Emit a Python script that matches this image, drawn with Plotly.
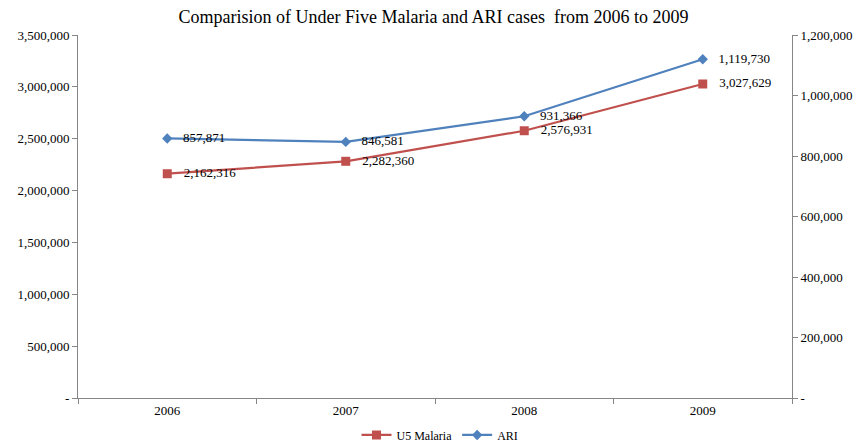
import plotly.graph_objects as go

years = ["2006", "2007", "2008", "2009"]
u5_malaria = [2162316, 2282360, 2576931, 3027629]
ari = [857871, 846581, 931366, 1119730]

left_ticks = [0, 500000, 1000000, 1500000, 2000000, 2500000, 3000000, 3500000]
right_ticks = [0, 200000, 400000, 600000, 800000, 1000000, 1200000]


def fmt(v):
    return "-" if v == 0 else f"{v:,}"


RED = "#C0504D"
BLUE = "#4F81BD"
AXIS = "#868686"
FONT = "Liberation Serif"
TICK_SIZE = 13

fig = go.Figure()
fig.add_trace(go.Scatter(
    x=years, y=u5_malaria, name="U5 Malaria", mode="lines+markers+text",
    line=dict(color=RED, width=2.25),
    marker=dict(symbol="square", size=9, color=RED),
    text=[f"   {v:,}" for v in u5_malaria], textposition="middle right",
    textfont=dict(family=FONT, size=13, color="#000000"),
    yaxis="y", cliponaxis=False,
))
fig.add_trace(go.Scatter(
    x=years, y=ari, name="ARI", mode="lines+markers+text",
    line=dict(color=BLUE, width=2.25),
    marker=dict(symbol="diamond", size=8, color=BLUE),
    text=[f"   {v:,}" for v in ari], textposition="middle right",
    textfont=dict(family=FONT, size=13, color="#000000"),
    yaxis="y2", cliponaxis=False,
))

fig.update_layout(
    width=860, height=442,
    margin=dict(l=78, r=68, t=35, b=44, autoexpand=False),
    paper_bgcolor="white", plot_bgcolor="white",
    font=dict(family=FONT, size=TICK_SIZE, color="#000000"),
    title=dict(text="Comparision of Under Five Malaria and ARI cases  from 2006 to 2009",
               x=0.504, xanchor="center", y=0.963, yanchor="middle",
               font=dict(family=FONT, size=18, color="#000000")),
    xaxis=dict(type="category", range=[-0.5, 3.5], tickson="boundaries",
               ticks="outside", ticklen=5, tickcolor=AXIS,
               showline=True, linecolor=AXIS, linewidth=1,
               showgrid=False, zeroline=False,
               tickfont=dict(family=FONT, size=TICK_SIZE)),
    yaxis=dict(range=[0, 3500000], tickvals=left_ticks,
               ticktext=[fmt(v) for v in left_ticks],
               ticks="outside", ticklen=5, tickcolor=AXIS,
               showline=True, linecolor=AXIS, linewidth=1,
               showgrid=False, zeroline=False,
               tickfont=dict(family=FONT, size=TICK_SIZE)),
    yaxis2=dict(range=[0, 1200000], tickvals=right_ticks,
                ticktext=[fmt(v) for v in right_ticks],
                overlaying="y", side="right",
                ticks="outside", ticklen=5, tickcolor=AXIS,
                showline=True, linecolor=AXIS, linewidth=1,
                showgrid=False, zeroline=False,
                tickfont=dict(family=FONT, size=TICK_SIZE)),
    legend=dict(orientation="h", x=0.507, xanchor="center",
                yref="container", y=0.016, yanchor="middle",
                font=dict(family=FONT, size=12), itemwidth=30,
                bgcolor="rgba(0,0,0,0)"),
    showlegend=True,
)

fig.write_html("out.html")
